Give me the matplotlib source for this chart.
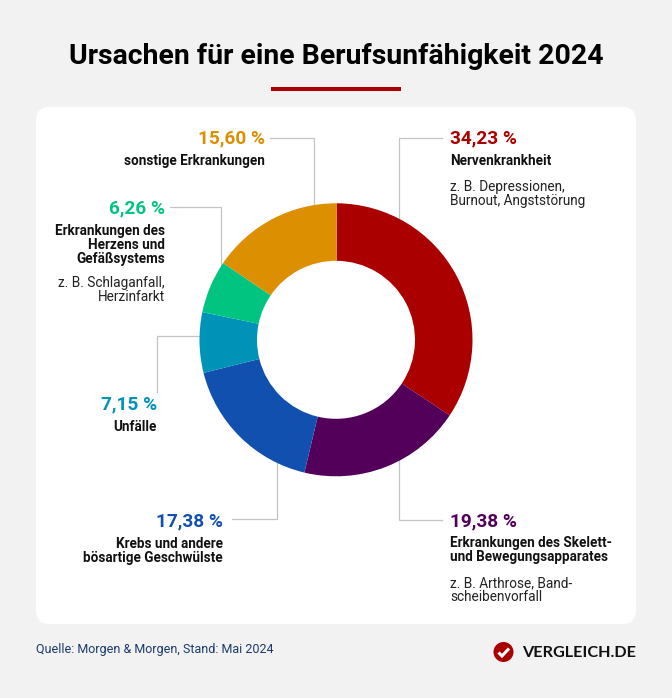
import matplotlib
matplotlib.use("Agg")
import matplotlib.pyplot as plt
from matplotlib.patches import FancyBboxPatch, Circle, Rectangle

plt.rcParams['font.family'] = ['Roboto', 'DejaVu Sans']

categories = ["Nervenkrankheit", "Erkrankungen des Skelett-\nund Bewegungsapparates",
              "Krebs und andere\nbösartige Geschwülste", "Unfälle",
              "Erkrankungen des\nHerzens und\nGefäßsystems", "sonstige Erkrankungen"]
values = [34.23, 19.38, 17.38, 7.15, 6.26, 15.60]
value_labels = ["34,23 %", "19,38 %", "17,38 %", "7,15 %", "6,26 %", "15,60 %"]
notes = ["z. B. Depressionen,\nBurnout, Angststörung", "z. B. Arthrose, Band-\nscheibenvorfall", "", "",
         "z. B. Schlaganfall,\nHerzinfarkt", ""]
colors = ["#AA0000", "#52005A", "#1250B0", "#0093B8", "#00C480", "#DC8F00"]
title = "Ursachen für eine Berufsunfähigkeit 2024"
source = "Quelle: Morgen & Morgen, Stand: Mai 2024"
brand = "VERGLEICH.DE"

W, H = 672, 698
fig = plt.figure(figsize=(W/100, H/100), dpi=100, facecolor="#F2F2F2")
ax = fig.add_axes([0, 0, 1, 1])
Y = lambda y: H - y
PX = 0.72

ax.add_patch(FancyBboxPatch((36+14, Y(624)+14), 600-28, 517-28,
             boxstyle="round,pad=14,rounding_size=14", fc="white", ec="none", zorder=0))

ax.pie(values, colors=colors, startangle=89.6, counterclock=False, center=(336, Y(339.8)),
       radius=136.5, wedgeprops=dict(width=57.5, linewidth=0), frame=True)
ax.set_xlim(0, W); ax.set_ylim(0, H); ax.set_aspect("equal"); ax.axis("off")

ax.text(336, Y(57), title, ha="center", va="center", fontsize=28.4*PX, fontweight="bold", color="#000000")
ax.add_patch(Rectangle((271, Y(91)), 130, 4, fc="#AA0000", ec="none"))

leaders = [[(442, 138), (399, 138), (399, 220)],
           [(442, 520), (399, 520), (399, 450)],
           [(232, 519), (277, 519), (277, 460)],
           [(200, 336), (157, 336), (157, 392)],
           [(170, 207), (221, 207), (221, 265)],
           [(270, 138), (314, 138), (314, 205)]]
for pts in leaders:
    ax.plot([p[0] for p in pts], [Y(p[1]) for p in pts], color="#C4C4C4", lw=0.9, zorder=0.5,
            solid_joinstyle="miter")

layout = [(450, 138, 160.5, 187, "left"),
          (450, 521, 543, 583, "left"),
          (223, 521, 543.5, 0, "right"),
          (157, 404, 426.5, 0, "right"),
          (165, 208, 230.5, 283, "right"),
          (265, 138, 160.5, 0, "right")]
for i, (x, yv, yc, yn, ha) in enumerate(layout):
    ax.text(x, Y(yv), value_labels[i], ha=ha, va="center", fontsize=19*PX, fontweight="bold", color=colors[i])
    ax.text(x, Y(yc-6.5), categories[i], ha=ha, va="top", fontsize=13.5*PX, fontweight="bold",
            color="#111111", linespacing=1.0)
    if notes[i]:
        ax.text(x, Y(yn-6.5), notes[i], ha=ha, va="top", fontsize=13.6*PX, color="#222222", linespacing=0.97)

ax.text(36, Y(650), source, ha="left", va="center", fontsize=12.5*PX, color="#1B3A6B")

ax.add_patch(Circle((503.5, Y(652)), 10, fc="#AA0000", ec="none"))
ax.plot([498.5, 502, 509], [Y(652.5), Y(656), Y(648.5)], color="white", lw=2.2, solid_capstyle="butt",
        solid_joinstyle="miter")
ax.text(522, Y(653), brand, ha="left", va="center", fontsize=16.3*PX, fontweight="bold", color="#111111",
        family=["Lato", "DejaVu Sans"])

fig.savefig("out.png", dpi=100, facecolor=fig.get_facecolor())
